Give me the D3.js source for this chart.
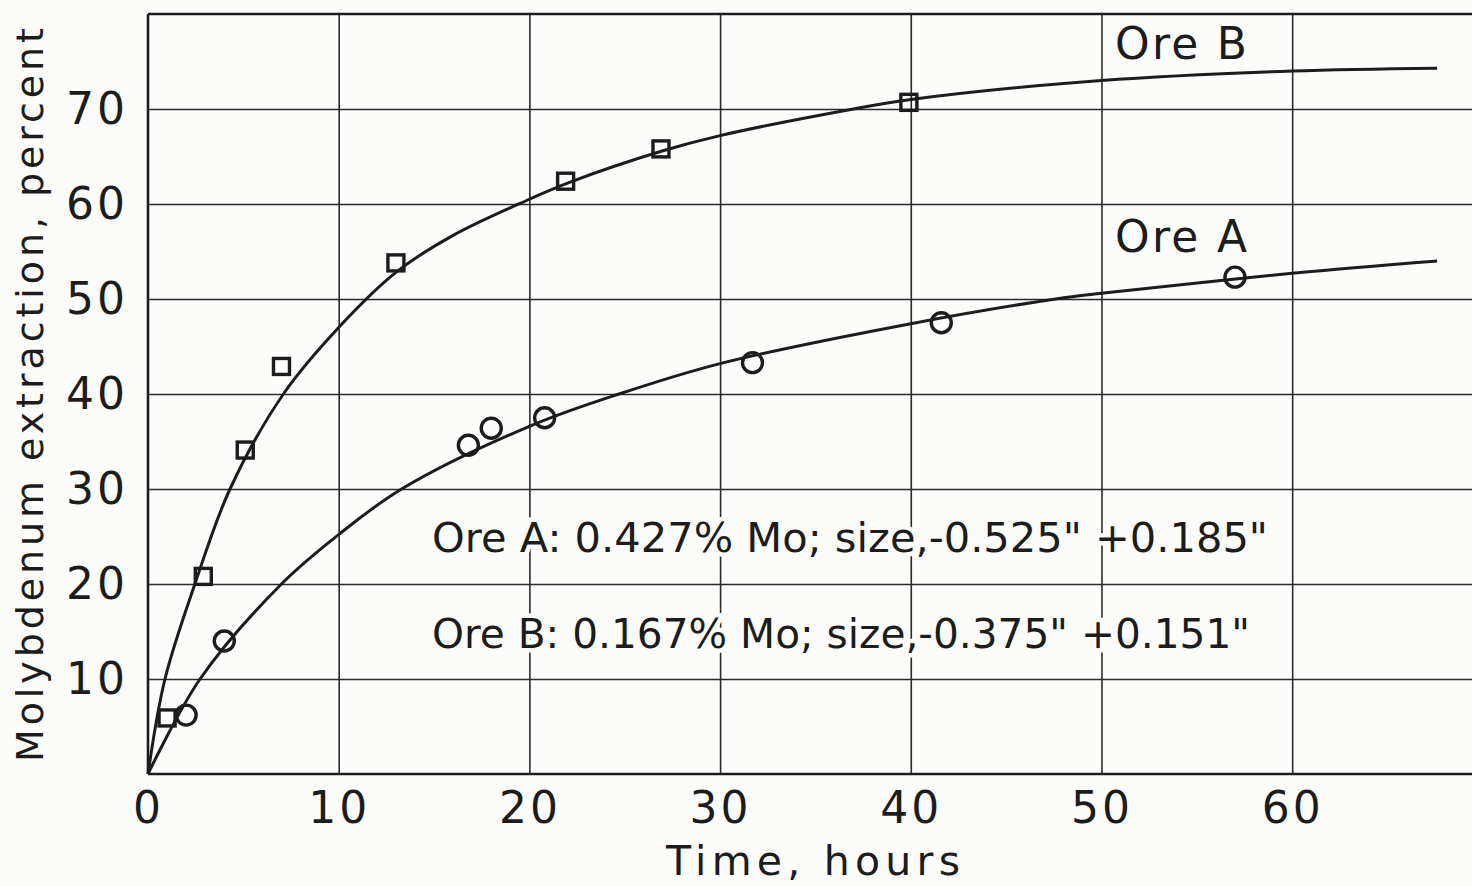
<!DOCTYPE html>
<html>
<head>
<meta charset="utf-8">
<script src="https://cdn.jsdelivr.net/npm/d3@7"></script>
<style>
  html, body { margin: 0; padding: 0; background: #fcfcfb; }
  svg { display: block; }
  text { font-family: "DejaVu Sans", "Liberation Sans", sans-serif; fill: #1c1c1c; }
</style>
</head>
<body>
<script>
// ---- data ----
const xTicks = [0, 10, 20, 30, 40, 50, 60];
const xTickLabels = ["0", "10", "20", "30", "40", "50", "60"];
const yTicks = [10, 20, 30, 40, 50, 60, 70];
const yTickLabels = ["10", "20", "30", "40", "50", "60", "70"];

// Ore B measured points (squares)
const oreBTime = [1, 2.9, 5.1, 7, 13, 21.9, 26.9, 39.9];
const oreBExtr = [5.9, 20.8, 34.1, 42.9, 53.8, 62.4, 65.8, 70.7];
// Ore A measured points (circles)
const oreATime = [2, 4, 16.8, 18, 20.8, 31.7, 41.6, 57];
const oreAExtr = [6.2, 14, 34.6, 36.4, 37.5, 43.3, 47.5, 52.3];

// Hand-drawn fitted curves
const oreBCurveTime = [0, 0.89, 2.46, 4.3, 7.1, 10, 13, 16, 20, 22, 27, 30, 37, 40, 50, 60, 67.6];
const oreBCurveExtr = [0, 10, 20, 30, 40, 47, 52.8, 56.7, 60.5, 62.2, 65.6, 67.2, 70, 71, 73, 74, 74.3];
const oreACurveTime = [0, 2.73, 7.0, 10, 13.3, 20, 24.7, 30, 40, 47.6, 50, 60, 67.6];
const oreACurveExtr = [0, 10, 20, 25.2, 30, 36.6, 40, 43.2, 47.4, 50, 50.6, 52.7, 54.0];

const seriesLabels = ["Ore B", "Ore A"];
const noteLines = [
  "Ore A: 0.427% Mo; size,-0.525\" +0.185\"",
  "Ore B: 0.167% Mo; size,-0.375\" +0.151\""
];
const xTitle = "Time, hours";
const yTitle = "Molybdenum extraction, percent";

// ---- drawing ----
const W = 1472, H = 886;
const ink = "#1c1c1c";
const paper = "#fcfcfb";
const svg = d3.select("body").append("svg").attr("width", W).attr("height", H);
svg.append("rect").attr("width", W).attr("height", H).attr("fill", paper);

const x = d3.scaleLinear().domain([0, 69.43]).range([148, 1472]);
const y = d3.scaleLinear().domain([0, 80]).range([774, 14]);

// vertical grid
svg.append("g")
  .attr("transform", `translate(0,${y(0)})`)
  .call(d3.axisBottom(x).tickValues(xTicks.slice(1)).tickSize(-(y(0) - y(80))).tickFormat(""))
  .call(g => g.select(".domain").remove())
  .call(g => g.selectAll("line").attr("stroke", "#2a2a2a").attr("stroke-width", 1.6));

// horizontal grid
svg.append("g")
  .attr("transform", `translate(${x(0)},0)`)
  .call(d3.axisLeft(y).tickValues(yTicks).tickSize(-(W - x(0))).tickFormat(""))
  .call(g => g.select(".domain").remove())
  .call(g => g.selectAll("line").attr("stroke", "#2a2a2a").attr("stroke-width", 1.6));

// frame: left, bottom, top
svg.append("line").attr("x1", x(0)).attr("x2", x(0)).attr("y1", y(80)).attr("y2", y(0))
  .attr("stroke", ink).attr("stroke-width", 2.6);
svg.append("line").attr("x1", x(0)).attr("x2", W).attr("y1", y(0)).attr("y2", y(0))
  .attr("stroke", ink).attr("stroke-width", 2.6);
svg.append("line").attr("x1", x(0)).attr("x2", W).attr("y1", y(80)).attr("y2", y(80))
  .attr("stroke", ink).attr("stroke-width", 2.4);

// x tick labels
svg.append("g")
  .attr("transform", `translate(0,${y(0)})`)
  .call(d3.axisBottom(x).tickValues(xTicks).tickSize(0).tickPadding(18)
    .tickFormat((d, i) => xTickLabels[i]))
  .call(g => g.select(".domain").remove())
  .call(g => g.selectAll("text")
    .attr("font-size", 44).attr("fill", ink)
    .style("font-family", "'DejaVu Sans', sans-serif")
    .attr("letter-spacing", 3));

// y tick labels
svg.append("g")
  .attr("transform", `translate(${x(0)},0)`)
  .call(d3.axisLeft(y).tickValues(yTicks).tickSize(0).tickPadding(20)
    .tickFormat((d, i) => yTickLabels[i]))
  .call(g => g.select(".domain").remove())
  .call(g => g.selectAll("text")
    .attr("font-size", 44).attr("fill", ink)
    .style("font-family", "'DejaVu Sans', sans-serif")
    .attr("letter-spacing", 3));

// notes (drawn over the grid with a paper-coloured halo, like the original lettering)
svg.append("text").attr("x", 432).attr("y", 552)
  .attr("font-size", 41).attr("textLength", 836).attr("lengthAdjust", "spacingAndGlyphs")
  .attr("stroke", paper).attr("stroke-width", 9).attr("paint-order", "stroke")
  .text(noteLines[0]);
svg.append("text").attr("x", 432).attr("y", 648)
  .attr("font-size", 41).attr("textLength", 818).attr("lengthAdjust", "spacingAndGlyphs")
  .attr("stroke", paper).attr("stroke-width", 9).attr("paint-order", "stroke")
  .text(noteLines[1]);

// curves
const line = d3.line().x(d => x(d[0])).y(d => y(d[1])).curve(d3.curveCatmullRom.alpha(0.5));
const curveB = oreBCurveTime.map((t, i) => [t, oreBCurveExtr[i]]);
const curveA = oreACurveTime.map((t, i) => [t, oreACurveExtr[i]]);
svg.append("path").datum(curveB).attr("d", line)
  .attr("fill", "none").attr("stroke", ink).attr("stroke-width", 3);
svg.append("path").datum(curveA).attr("d", line)
  .attr("fill", "none").attr("stroke", ink).attr("stroke-width", 3);

// markers
const sq = 16;
svg.append("g").selectAll("rect")
  .data(oreBTime.map((t, i) => [t, oreBExtr[i]]))
  .join("rect")
  .attr("x", d => x(d[0]) - sq / 2).attr("y", d => y(d[1]) - sq / 2)
  .attr("width", sq).attr("height", sq)
  .attr("fill", "none").attr("stroke", ink).attr("stroke-width", 3.4);

svg.append("g").selectAll("circle")
  .data(oreATime.map((t, i) => [t, oreAExtr[i]]))
  .join("circle")
  .attr("cx", d => x(d[0])).attr("cy", d => y(d[1])).attr("r", 10)
  .attr("fill", "none").attr("stroke", ink).attr("stroke-width", 3.4);

// series labels
svg.append("text").attr("x", 1115).attr("y", 59)
  .attr("font-size", 44).attr("textLength", 132).attr("lengthAdjust", "spacing")
  .text(seriesLabels[0]);
svg.append("text").attr("x", 1115).attr("y", 252)
  .attr("font-size", 44).attr("textLength", 132).attr("lengthAdjust", "spacing")
  .text(seriesLabels[1]);

// axis titles
svg.append("text").attr("x", 666).attr("y", 875)
  .attr("font-size", 41).attr("textLength", 294).attr("lengthAdjust", "spacing")
  .text(xTitle);
svg.append("text")
  .attr("transform", "translate(43,395) rotate(-90)")
  .attr("text-anchor", "middle")
  .attr("font-size", 38).attr("textLength", 734).attr("lengthAdjust", "spacing")
  .text(yTitle);
</script>
</body>
</html>
